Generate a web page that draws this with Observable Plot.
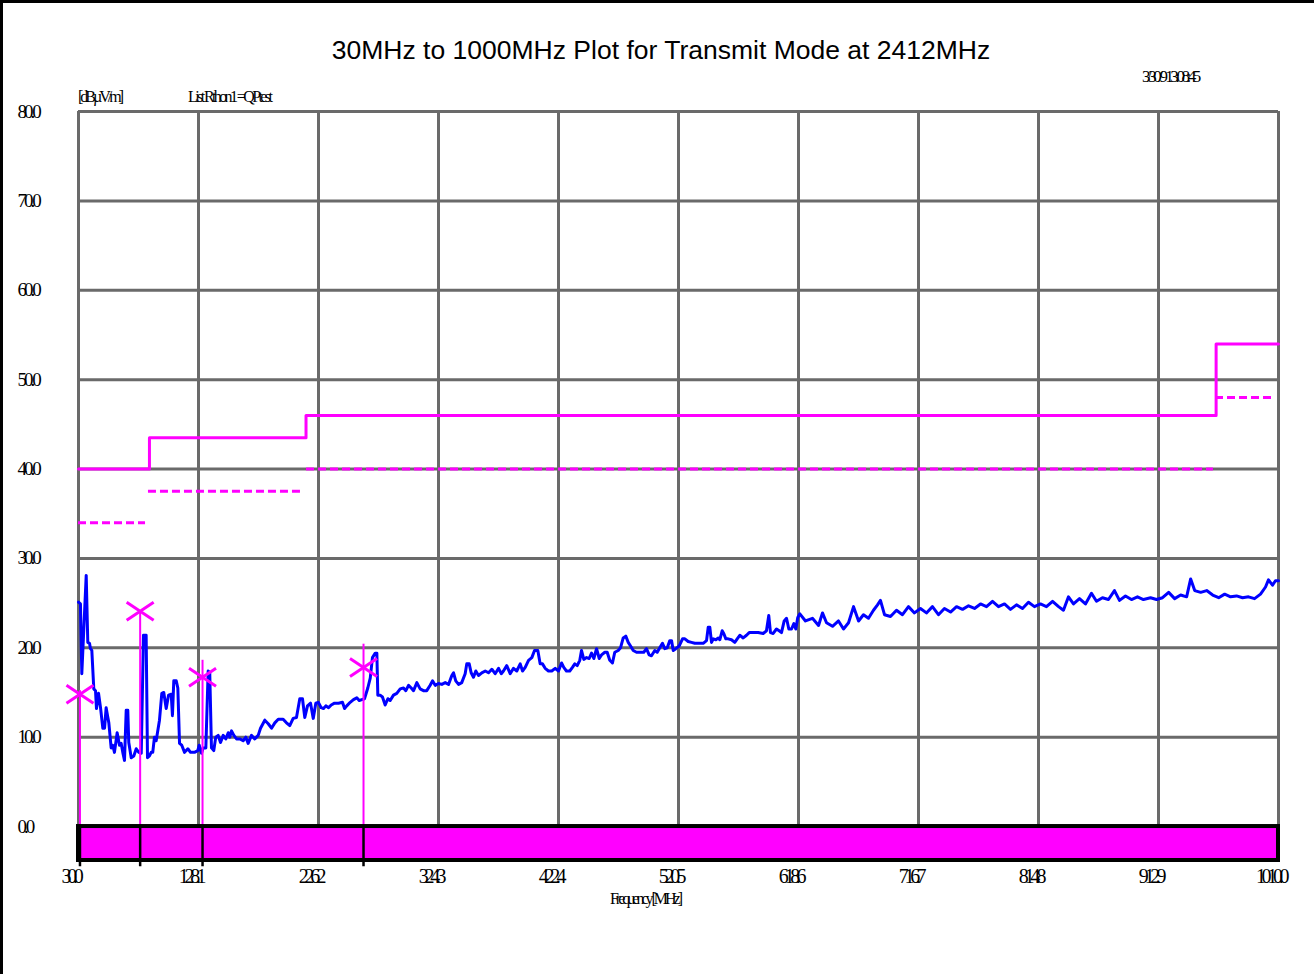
<!DOCTYPE html>
<html>
<head>
<meta charset="utf-8">
<script src="https://cdn.jsdelivr.net/npm/d3@7"></script>
<script src="https://cdn.jsdelivr.net/npm/@observablehq/plot@0.6"></script>
<style>
  html, body { margin: 0; padding: 0; background: #fff; }
  #page { position: relative; width: 1314px; height: 974px; overflow: hidden; background: #fff; }
  #page svg { position: absolute; left: 0; top: 0; }
  .bl { position: absolute; background: #000; }
  .lbl { position: absolute; white-space: nowrap; line-height: 1; color: #000; transform: translateY(-50%);
         font-family: "Liberation Serif", "Times New Roman", serif; }
  #title { left: 0; width: 1322px; top: 50px; text-align: center; font-family: "Liberation Sans", Arial, sans-serif; font-size: 26.5px; letter-spacing: 0; }
  svg g[aria-label="x-axis tick label"] text { letter-spacing: -4.3px; }
  svg g[aria-label="y-axis tick label"] text { letter-spacing: -3px; }
</style>
</head>
<body>
<div id="page">
  <div class="bl" style="left:0;top:0;width:1314px;height:3px"></div>
  <div class="bl" style="left:0;top:0;width:3px;height:974px"></div>
  <div class="lbl" id="title"></div>
  <div class="lbl" id="stamp" style="left:1142px;top:76px;font-size:17px;letter-spacing:-3.5px"></div>
  <div class="lbl" id="unit" style="left:78px;top:97px;font-size:16px;letter-spacing:-3px"></div>
  <div class="lbl" id="listinfo" style="left:188px;top:97px;font-size:16px;letter-spacing:-2.6px"></div>
  <div class="lbl" id="xlabel" style="left:645px;top:899px;font-size:16px;letter-spacing:-3px;transform:translate(-50%,-50%)"></div>
</div>
<script>
// ---- texts ----
const titleText = "30MHz to 1000MHz Plot for Transmit Mode at 2412MHz";
const stampText = "3/30/9 13:08:45";
const unitText = "[dBµV/m]";
const listText = "List Rthon1 =QPtest";
const xLabelText = "Frequency [MHz]";

// ---- axes ----
const xDomain = [30, 1011];
const yDomain = [-3.8, 80];
const xTicks = [30, 128.1, 226.2, 324.3, 422.4, 520.5, 618.6, 716.7, 814.8, 912.9, 1011];
const xTickLabels = ["30.0", "128.1", "226.2", "324.3", "422.4", "520.5", "618.6", "716.7", "814.8", "912.9", "1010.0"];
const yTicks = [0, 10, 20, 30, 40, 50, 60, 70, 80];
const yTickLabels = ["0.0", "10.0", "20.0", "30.0", "40.0", "50.0", "60.0", "70.0", "80.0"];

// ---- limit lines (dBµV/m) ----
const limitFreq = [30, 88, 216, 960, 1011];
const limitLevel = [40, 43.5, 46, 54, 54];
const marginStart = [30, 87.2, 216.4, 959.5];
const marginEnd = [84.8, 211.5, 957.8, 1008.5];
const marginLevel = [34, 37.5, 40, 48];

// ---- final measurement markers ----
const markerFreq = [31.2, 80.4, 131.4, 263.0];
const markerLevel = [14.8, 24.1, 16.7, 17.8];
const markerLineTop = [15.2, 24.1, 18.6, 20.4];

// ---- pre-scan trace [MHz, dBµV/m] ----
const trace = [
[30.0,25.1],[31.6,24.9],[32.7,17.1],[36.3,28.1],[37.6,20.6],[39.0,20.5],[39.8,19.9],[40.9,19.7],[42.5,15.4],[43.9,15.2],
[44.7,13.2],[46.4,14.9],[48.0,13.3],[49.9,11.0],[51.3,11.0],[52.6,13.3],[54.0,12.2],[54.8,11.6],[56.7,8.8],[58.0,9.1],
[59.4,8.3],[61.6,10.5],[63.5,9.1],[64.9,9.3],[66.2,8.3],[67.6,7.4],[69.0,13.0],[70.3,13.0],[71.1,9.4],[73.1,7.7],
[75.2,7.9],[77.2,8.7],[79.3,8.3],[81.3,8.2],[83.1,21.4],[85.3,21.4],[86.4,7.7],[88.0,7.9],[89.4,8.3],[90.7,8.3],
[92.1,10.0],[93.5,9.6],[96.2,11.9],[98.1,14.9],[99.7,15.0],[101.7,13.2],[103.6,14.7],[105.8,14.8],[106.8,12.4],[107.9,16.3],
[109.9,16.3],[111.2,15.5],[112.6,9.3],[114.4,9.1],[116.7,8.3],[119.4,8.7],[121.6,8.3],[124.8,8.3],[127.5,8.5],[128.7,9.1],
[130.6,8.2],[131.9,8.8],[134.1,8.8],[136.0,17.4],[137.3,17.2],[138.7,8.8],[140.6,8.5],[142.2,10.0],[144.2,10.2],[146.1,9.4],
[148.3,10.2],[150.4,9.8],[152.4,10.5],[153.7,10.0],[155.1,10.7],[157.0,10.2],[159.2,9.8],[161.9,9.8],[164.6,9.6],[166.8,10.0],
[168.7,9.3],[171.4,10.2],[174.1,9.8],[176.9,10.2],[178.8,11.0],[182.3,11.9],[185.1,11.5],[187.8,11.0],[190.5,11.6],[193.3,12.0],
[197.3,12.0],[200.0,11.6],[202.7,11.3],[205.5,12.1],[208.2,12.2],[210.9,14.3],[213.1,14.3],[215.0,12.2],[217.2,13.5],[219.7,13.8],
[221.9,12.1],[224.0,13.8],[226.0,13.9],[228.4,13.3],[230.3,13.2],[232.2,13.5],[234.4,13.3],[236.6,13.6],[239.3,13.8],[242.6,13.8],
[245.8,13.9],[247.5,13.2],[249.3,13.5],[252.1,13.9],[254.8,14.2],[257.5,14.4],[259.5,14.1],[261.6,14.2],[263.8,14.3],[266.5,15.5],
[268.5,16.6],[270.3,18.9],[272.6,19.4],[273.9,19.4],[274.7,14.7],[276.6,14.7],[278.5,14.5],[280.7,13.6],[282.9,14.3],[284.8,14.1],
[287.5,14.7],[290.2,14.9],[293.0,15.4],[295.7,15.5],[297.6,15.2],[299.8,15.8],[302.0,15.5],[303.9,15.2],[306.6,16.1],[309.3,15.4],
[312.0,15.2],[314.7,15.2],[317.5,15.8],[319.4,16.3],[321.6,15.8],[324.3,16.0],[327.0,15.9],[329.8,16.1],[332.5,15.9],[335.2,16.9],
[336.6,17.2],[338.4,16.3],[340.7,15.9],[343.3,16.1],[346.1,17.1],[347.4,18.2],[349.4,18.2],[351.0,17.2],[352.9,16.7],[354.8,17.4],
[357.0,16.9],[359.7,17.2],[362.5,17.4],[365.2,17.2],[367.9,17.6],[370.6,17.1],[373.4,17.7],[375.6,17.1],[377.4,17.4],[380.1,18.0],
[382.9,17.1],[385.6,17.7],[388.3,17.4],[391.1,18.2],[393.0,17.4],[395.2,17.8],[397.9,18.6],[400.6,18.9],[402.8,19.7],[405.5,19.7],
[407.4,18.2],[409.3,18.2],[411.5,17.7],[414.2,17.4],[416.9,17.4],[419.7,17.7],[422.4,17.4],[424.9,18.3],[426.7,17.8],[428.9,17.4],
[431.6,17.4],[433.8,17.8],[435.7,18.2],[437.7,18.0],[439.8,18.6],[441.2,19.7],[443.1,18.7],[445.3,18.9],[447.5,18.8],[449.4,19.4],
[451.3,18.8],[453.5,19.9],[455.7,18.8],[457.6,19.2],[460.3,19.5],[462.2,19.5],[464.3,18.6],[466.5,18.3],[468.4,19.5],[471.2,19.7],
[473.1,20.0],[475.3,21.1],[477.4,21.3],[479.4,20.6],[481.3,20.2],[483.5,19.7],[486.2,19.5],[489.4,19.5],[492.1,19.5],[494.3,19.9],
[496.5,19.2],[498.4,19.1],[501.1,19.7],[503.1,19.5],[505.2,20.0],[507.4,20.5],[509.3,19.9],[511.3,20.0],[513.4,20.8],[514.8,20.8],
[516.2,19.7],[518.3,19.9],[521.1,20.2],[523.8,21.0],[525.7,21.0],[528.4,20.7],[531.1,20.6],[533.8,20.5],[537.4,20.5],[540.7,20.5],
[543.4,20.8],[544.8,22.3],[546.1,22.3],[547.5,20.6],[548.9,21.0],[551.0,20.9],[553.0,21.1],[554.3,20.9],[556.2,21.9],[557.5,21.6],
[559.2,21.0],[561.1,21.0],[563.8,20.9],[566.5,20.6],[568.5,21.0],[570.6,21.4],[573.4,21.1],[576.1,21.4],[578.3,21.7],[581.6,21.7],
[585.6,21.7],[589.7,21.6],[592.4,21.9],[594.3,23.6],[595.7,21.7],[597.9,21.6],[600.6,22.1],[602.8,21.9],[604.7,21.7],[606.9,23.0],
[608.8,23.3],[610.7,22.1],[612.9,22.1],[614.8,22.7],[616.4,22.1],[618.0,23.4],[619.7,23.8],[624.3,23.0],[630.0,23.3],[635.0,22.5],
[638.2,23.9],[641.5,22.8],[646.4,22.4],[651.3,23.0],[655.4,22.1],[659.5,22.8],[663.6,24.6],[667.7,23.0],[671.7,23.7],[675.8,23.3],
[679.9,24.2],[683.2,24.8],[685.6,25.3],[688.9,23.7],[693.8,23.5],[698.7,24.2],[703.6,23.7],[708.5,24.6],[713.4,23.9],[718.3,24.4],
[723.2,23.9],[728.1,24.6],[733.0,23.7],[737.9,24.4],[742.9,24.0],[747.8,24.6],[752.7,24.3],[757.6,24.7],[762.5,24.4],[767.4,24.9],
[772.3,24.6],[777.2,25.2],[782.1,24.6],[787.0,24.9],[791.9,24.3],[796.8,24.8],[801.7,24.4],[806.6,25.1],[811.5,24.6],[816.4,24.9],
[821.3,24.6],[826.3,25.2],[831.2,24.6],[835.2,24.2],[839.3,25.7],[843.4,24.9],[848.3,25.5],[853.2,24.9],[858.1,26.1],[862.2,25.2],
[867.1,25.6],[872.0,25.4],[876.9,26.4],[881.0,25.3],[885.9,25.8],[890.8,25.4],[895.7,25.7],[900.6,25.4],[906.4,25.6],[911.3,25.4],
[916.2,25.6],[921.2,26.2],[926.1,25.5],[931.0,25.9],[935.9,25.7],[939.2,27.7],[942.5,26.4],[947.4,26.2],[952.3,26.4],[957.2,25.9],
[962.1,25.6],[967.0,26.0],[971.8,25.7],[976.7,25.8],[981.6,25.6],[986.5,25.7],[991.4,25.5],[996.3,26.0],[1000.4,26.8],[1002.8,27.6],
[1006.1,27.0],[1008.5,27.5],[1011.0,27.5]
];

// ---- build tables ----
const limitData = limitFreq.map((f, i) => ({f, v: limitLevel[i]}));
const marginData = marginLevel.map((v, i) => ({f1: marginStart[i], f2: marginEnd[i], v}));
const markers = markerFreq.map((f, i) => ({f, v: markerLevel[i], top: markerLineTop[i]}));
const traceData = trace.map(([f, v]) => ({f, v}));
const barData = [{x1: xDomain[0], x2: xDomain[1], y1: yDomain[0], y2: 0}];

const wideX = {
  draw(ctx, size) {
    const r = Math.sqrt(size / Math.PI);
    const w = r * 1.5, h = r;
    ctx.moveTo(-w, -h); ctx.lineTo(w, h);
    ctx.moveTo(-w, h); ctx.lineTo(w, -h);
  }
};

const MAG = "#ff00ff", BLUE = "#0000ff", GRID = "#6a6a6a";

const chart = Plot.plot({
  width: 1314, height: 974,
  marginLeft: 78, marginRight: 36, marginTop: 111, marginBottom: 114,
  x: {domain: xDomain, label: null},
  y: {domain: yDomain, label: null},
  style: {fontFamily: "'Liberation Serif', 'Times New Roman', serif", background: "transparent", overflow: "visible", color: "#000"},
  marks: [
    Plot.gridX(xTicks, {stroke: GRID, strokeOpacity: 1, strokeWidth: 3}),
    Plot.gridY(yTicks, {stroke: GRID, strokeOpacity: 1, strokeWidth: 3}),
    Plot.axisX(xTicks, {tickSize: 0, tickPadding: 8, dx: -8, fontSize: 20,
      tickFormat: d => xTickLabels[xTicks.indexOf(d)], label: null}),
    Plot.axisY(yTicks, {tickSize: 0, tickPadding: 0, textAnchor: "start", dx: -61, fontSize: 19,
      tickFormat: d => yTickLabels[yTicks.indexOf(d)], label: null}),
    Plot.ruleY(marginData, {y: "v", x1: "f1", x2: "f2", stroke: MAG, strokeWidth: 3, strokeDasharray: "8,4"}),
    Plot.line(limitData, {x: "f", y: "v", curve: "step-after", stroke: MAG, strokeWidth: 3}),
    Plot.line(traceData, {x: "f", y: "v", stroke: BLUE, strokeWidth: 3, strokeLinejoin: "round"}),
    Plot.ruleX(markers, {x: "f", y1: 0, y2: "top", stroke: MAG, strokeWidth: 2}),
    Plot.dot(markers, {x: "f", y: "v", symbol: wideX, r: 9, fill: "none", stroke: MAG, strokeWidth: 3}),
    Plot.rect(barData, {x1: "x1", x2: "x2", y1: "y1", y2: "y2", fill: MAG, stroke: "#000", strokeWidth: 4}),
    Plot.ruleX(markers, {x: "f", y1: yDomain[0] - 0.7, y2: 0, stroke: "#000", strokeWidth: 2.5})
  ]
});

const page = document.getElementById("page");
page.insertBefore(chart, page.firstChild);
document.getElementById("title").textContent = titleText;
document.getElementById("stamp").textContent = stampText;
document.getElementById("unit").textContent = unitText;
document.getElementById("listinfo").textContent = listText;
document.getElementById("xlabel").textContent = xLabelText;
</script>
</body>
</html>
